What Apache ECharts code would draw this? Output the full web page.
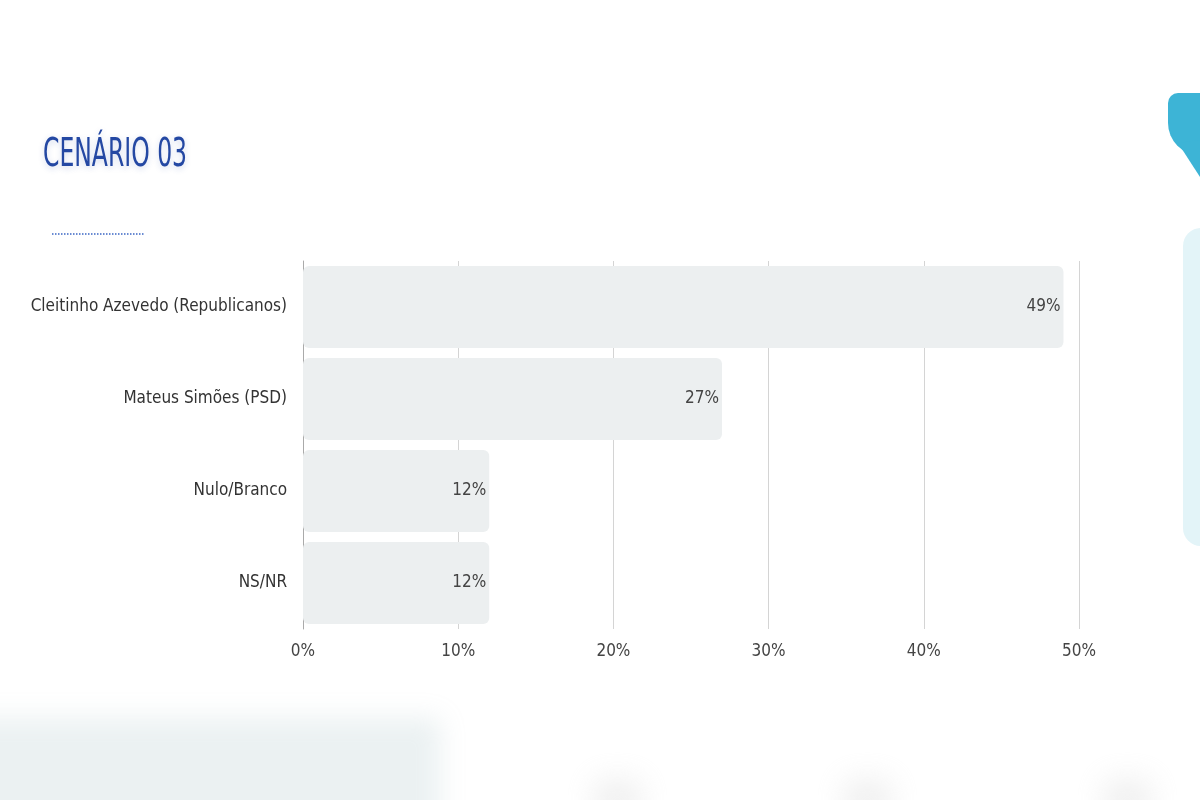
<!DOCTYPE html>
<html>
<head>
<meta charset="utf-8">
<script src="https://cdn.jsdelivr.net/npm/echarts@6/dist/echarts.min.js"></script>
<style>
  html, body { margin: 0; padding: 0; background: #ffffff; }
  #chart { width: 1200px; height: 800px; }
</style>
</head>
<body>
<div id="chart"></div>
<script>
const categories = ['Cleitinho Azevedo (Republicanos)', 'Mateus Simões (PSD)', 'Nulo/Branco', 'NS/NR'];
const values = [49, 27, 12, 12];
const xTicks = [0, 10, 20, 30, 40, 50];

const FONT = '"DejaVu Sans Condensed", "Liberation Sans Narrow", sans-serif';

// blurred shapes: rect drawn off-screen, only its shadow lands on the page
function blurBlock(x, y, w, h, color, blur) {
  return {
    type: 'rect',
    z: -1,
    shape: { x: x - 3000, y: y, width: w, height: h },
    style: { fill: '#fff', shadowBlur: blur, shadowColor: color, shadowOffsetX: 3000 }
  };
}

const chart = echarts.init(document.getElementById('chart'));

chart.setOption({
  backgroundColor: '#ffffff',
  animation: false,
  grid: { left: 303, right: 121, top: 261, bottom: 171, containLabel: false },
  xAxis: {
    type: 'value',
    min: xTicks[0],
    max: xTicks[xTicks.length - 1],
    interval: 10,
    axisLine: { show: false },
    axisTick: { show: false },
    splitLine: { show: true, lineStyle: { color: '#d4d4d4', width: 1 } },
    axisLabel: {
      formatter: '{value}%',
      color: '#444',
      fontFamily: FONT,
      fontSize: 17,
      margin: 14
    }
  },
  yAxis: {
    type: 'category',
    inverse: true,
    data: categories,
    axisLine: { show: true, lineStyle: { color: '#aaa' } },
    axisTick: { show: false },
    axisLabel: {
      color: '#333',
      fontFamily: FONT,
      fontSize: 17,
      margin: 16
    }
  },
  series: [{
    type: 'bar',
    data: values,
    barCategoryGap: '11%',
    itemStyle: { color: '#eceff0', borderRadius: 6 },
    label: {
      show: true,
      position: 'insideRight',
      formatter: '{c}%',
      color: '#444',
      fontFamily: FONT,
      fontSize: 17,
      offset: [2, 0]
    }
  }],
  graphic: [
    {
      type: 'text',
      x: 43,
      y: 136,
      scaleX: 0.67,
      style: {
        text: 'CENÁRIO 03',
        font: '39px ' + FONT,
        fill: '#2448a3',
        textShadowColor: 'rgba(36,72,163,0.22)',
        textShadowBlur: 6,
        textShadowOffsetY: 2
      }
    },
    {
      type: 'line',
      shape: { x1: 52, y1: 234, x2: 144, y2: 234 },
      style: { stroke: '#3a66c4', lineWidth: 1.5, lineDash: [1.5, 1.5] }
    },
    {
      type: 'rect',
      shape: { x: 1168, y: 93, width: 50, height: 62, r: [10, 0, 0, 32] },
      style: { fill: '#3db4d6' }
    },
    {
      type: 'polygon',
      shape: { points: [[1178, 143], [1200, 177], [1200, 140]] },
      style: { fill: '#3db4d6' }
    },
    {
      type: 'rect',
      shape: { x: 1183, y: 228, width: 40, height: 318, r: 18 },
      style: { fill: '#e3f4f8' }
    },
    blurBlock(-30, 718, 470, 120, 'rgba(232,238,240,0.85)', 24),
    blurBlock(595, 780, 45, 40, 'rgba(228,228,228,0.6)', 30),
    blurBlock(845, 780, 45, 40, 'rgba(228,228,228,0.6)', 30),
    blurBlock(1105, 780, 45, 40, 'rgba(228,228,228,0.6)', 30)
  ]
});
</script>
</body>
</html>
